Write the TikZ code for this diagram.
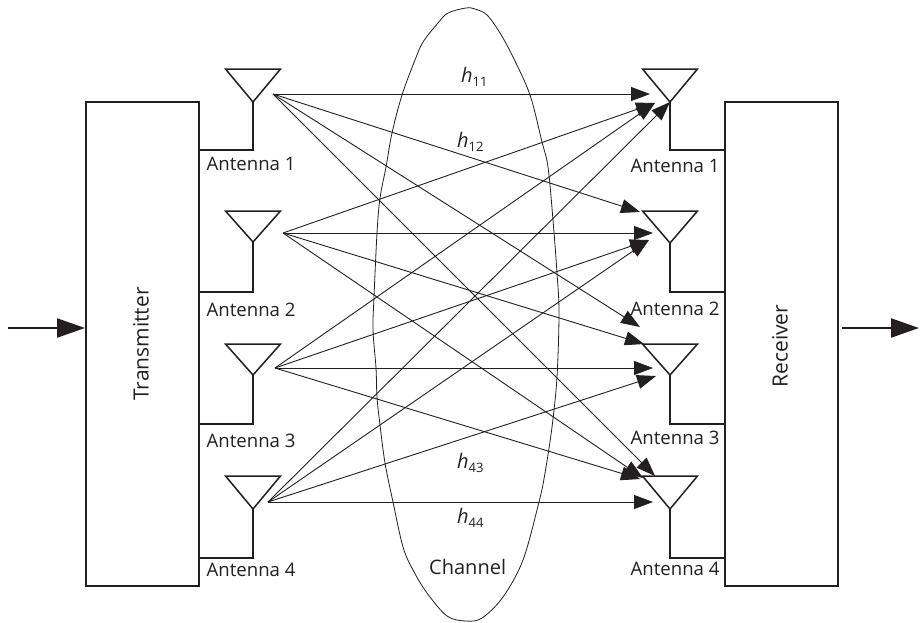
\documentclass[tikz,border=0pt]{standalone}
\usepackage{fontspec}
\setmainfont{Open Sans}
\usetikzlibrary{arrows.meta}
\definecolor{ink}{HTML}{231F20}
\tikzset{
  box/.style={draw=ink,line width=1.5pt,fill=none},
  wire/.style={draw=ink,line width=1.5pt,line join=miter},
  link/.style={draw=ink,line width=0.9pt,-{Triangle[length=19pt,width=14pt]}},
  bigarrow/.style={draw=ink,line width=2.2pt,-{Triangle[length=28pt,width=19pt]}},
  lab/.style={inner sep=0pt,anchor=base west,text=ink,font=\fontsize{18.6}{21}\selectfont},
  chanlab/.style={inner sep=0pt,anchor=base west,text=ink,font=\fontsize{20}{23}\selectfont},
  gain/.style={inner sep=0pt,anchor=base west,text=ink,font=\fontsize{20}{23}\selectfont},
  sidelab/.style={inner sep=0pt,text=ink,rotate=90,font=\fontsize{21}{24}\selectfont},
}
\newcommand{\gainlabel}[1]{\textit{h}\raisebox{-4pt}{\fontsize{13}{15}\selectfont #1}}
\newcommand{\antenna}[5]{%
  \draw[wire] (#2-27.5,#3) -- (#2+27.5,#3) -- (#2,#4) -- cycle;
  \draw[wire] (#2,#4) -- (#2,#5) -- (#1,#5);
}
\begin{document}
\begin{tikzpicture}[x=1pt,y=-1pt]
\useasboundingbox (0,0) rectangle (920,622);
% channel
\draw[ink,line width=0.8pt] plot[smooth cycle,tension=0.55] coordinates {
 (466,8) (448,13) (438,23) (423,42) (415,60) (402,95) (392,133) (386,167) (380,198) (377,233)
 (374,297) (373,330) (376,368) (377,397) (380,425) (385,463) (393,502) (403,547) (413,570)
 (427,593) (447,616) (466,621) (482,618) (503,597) (523,560) (539,502) (545,473) (552,427)
 (557,377) (559,313) (557,273) (553,220) (548,167) (542,142) (530,95) (513,57) (500,33) (487,15) (475,9)};
% boxes
\node[box,minimum width=113pt,minimum height=484pt,inner sep=0pt] (tx) at (142.5,344) {};
\node[box,minimum width=113pt,minimum height=484pt,inner sep=0pt] (rx) at (781.5,344) {};
\node[sidelab] (txl) at (141,344) {Transmitter};
\node[sidelab] (rxl) at (780,346) {Receiver};
% antennas
\antenna{199}{253}{69}{102}{150}
\antenna{199}{253}{211}{242}{292}
\antenna{199}{253}{344}{375}{424}
\antenna{199}{253}{476}{509}{558}
\antenna{725}{670}{69}{102}{150}
\antenna{725}{670}{211}{243}{292}
\antenna{725}{670}{344}{375}{424}
\antenna{725}{670}{476}{509}{558}
% antenna labels
\node[lab] (la1) at (206.5,170) {Antenna 1};
\node[lab] (la2) at (206.5,316) {Antenna 2};
\node[lab] (la3) at (206.5,447) {Antenna 3};
\node[lab] (la4) at (206.5,576) {Antenna 4};
\node[lab] (ra1) at (630.5,172) {Antenna 1};
\node[lab] (ra2) at (630.5,315) {Antenna 2};
\node[lab] (ra3) at (630.5,444) {Antenna 3};
\node[lab] (ra4) at (630.5,575) {Antenna 4};
\node[chanlab] (chan) at (429,574) {Channel};
\node[gain] (h11) at (461,82) {\gainlabel{11}};
\node[gain] (h12) at (457,147) {\gainlabel{12}};
\node[gain] (h43) at (457,468) {\gainlabel{43}};
\node[gain] (h44) at (457,523) {\gainlabel{44}};
% link endpoints
\coordinate (s1) at (273,94);
\coordinate (s2) at (283,233);
\coordinate (s3) at (275,368);
\coordinate (s4) at (268,502);
\coordinate (r11) at (650,94);
\coordinate (r21) at (655,103);
\coordinate (r31) at (655,103);
\coordinate (r41) at (670,102);
\coordinate (r12) at (640,212);
\coordinate (r22) at (653,233);
\coordinate (r32) at (649,240);
\coordinate (r42) at (649,240);
\coordinate (r13) at (640,327);
\coordinate (r23) at (644,344);
\coordinate (r33) at (653,368);
\coordinate (r43) at (656,376);
\coordinate (r14) at (655,476);
\coordinate (r24) at (643,478);
\coordinate (r34) at (640,479);
\coordinate (r44) at (653,502);
\foreach \s in {1,2,3,4}{\foreach \r in {1,2,3,4}{\draw[link] (s\s) -- (r\s\r);}}
% in / out
\coordinate (inS) at (8,328);
\coordinate (inE) at (85,328);
\coordinate (outS) at (842,328);
\coordinate (outE) at (919,328);
\draw[bigarrow] (inS) -- (inE);
\draw[bigarrow] (outS) -- (outE);
\end{tikzpicture}
\end{document}
